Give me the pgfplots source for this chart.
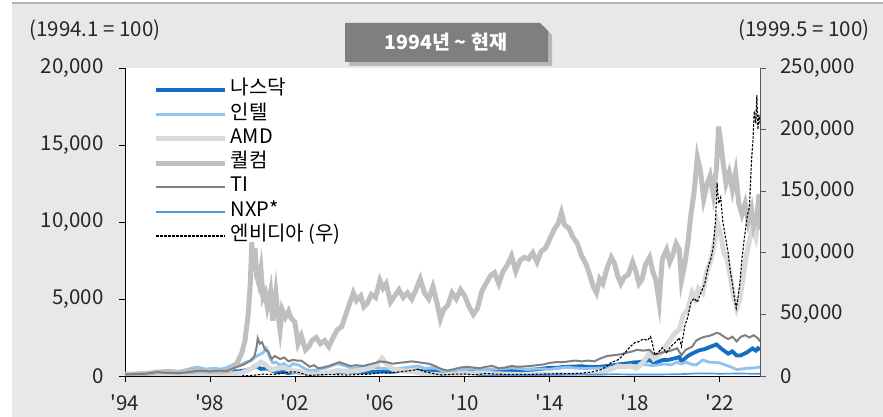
\documentclass[border=0pt]{standalone}
\usepackage{fontspec}
\newfontfamily\kr{Noto Sans CJK KR}
\usepackage{pgfplots}
\pgfplotsset{compat=1.18}
\definecolor{bg}{HTML}{E8E8E8}
\definecolor{cNas}{RGB}{21,110,196}
\definecolor{cInt}{RGB}{143,196,240}
\definecolor{cAMD}{HTML}{D9D9D9}
\definecolor{cQcm}{HTML}{BFBFBF}
\definecolor{cTI}{HTML}{808080}
\definecolor{cNXP}{RGB}{80,150,225}
\definecolor{boxg}{HTML}{7F7F7F}
\newcommand\ap{\textquotesingle}
\newcommand\fs{\kr\fontsize{20.5}{24}\selectfont}
\begin{document}
\begin{tikzpicture}[x=1pt,y=1pt,font=\kr]
\useasboundingbox (0,0) rectangle (883,417);
\fill[bg] (12,0) rectangle (883,414);
\draw[gray!60,line width=1.5pt] (12,414) -- (883,414);
\fill[white] (125,41) rectangle (760,349);
% title box
\fill[black!40,opacity=0.6] (349,351) -- (349,390) -- (544,390) -- (552,382) -- (552,351) -- cycle;
\fill[boxg] (345,355) -- (345,394) -- (540,394) -- (548,386) -- (548,355) -- cycle;
\node[white,font=\kr\bfseries\fontsize{19.5}{22}\selectfont] at (446,374.5) {1994년 \char"7E\ 현재};
\node[anchor=west,font=\fs,text=black!85] at (26,387) {(1994.1 = 100)};
\node[anchor=east,font=\fs,text=black!85] at (873,387) {(1999.5 = 100)};
\begin{axis}[
  at={(125pt,41pt)}, anchor=south west,
  scale only axis, width=635pt, height=308pt,
  xmin=1994, xmax=2023.9, ymin=0, ymax=20000,
  axis x line*=bottom, axis y line*=left,
  axis line style={-, black, line width=0.9pt},
  tick align=outside, major tick length=6pt,
  tick style={black, line width=0.8pt},
  xtick={1994,1998,2002,2006,2010,2014,2018,2022},
  xticklabels={{\ap94},{\ap98},{\ap02},{\ap06},{\ap10},{\ap14},{\ap18},{\ap22}},
  ytick={0,5000,10000,15000,20000},
  yticklabels={0,{5,000},{10,000},{15,000},{20,000}},
  scaled y ticks=false, scaled x ticks=false,
  tick label style={font=\fs, text=black!85},
  yticklabel style={xshift=-12pt},
  xticklabel style={yshift=-9pt},
  legend cell align=left,
  legend image code/.code={\draw[#1] (0pt,0pt) -- (69pt,0pt);},
  legend style={at={(0.045,0.968)}, anchor=north west, draw=none, fill=none,
    inner sep=0pt, row sep=0pt,
    font=\kr\fontsize{20}{22}\selectfont,
    nodes={text height=14pt, text depth=5pt, inner ysep=2.65pt, inner xsep=3pt}},
]
\addplot[cNas, line width=3.8pt] coordinates {
(1994.0,100)(1994.5,90)(1995.0,100)(1995.5,120)(1996.0,135)(1996.5,145)(1997.0,165)(1997.5,190)(1998.0,200)(1998.5,230)(1998.8,210)(1999.0,290)(1999.5,320)(1999.9,450)(2000.2,640)(2000.4,460)(2000.7,490)(2000.95,320)(2001.25,230)(2001.45,280)(2001.7,180)(2001.9,250)(2002.2,230)(2002.5,170)(2002.75,145)(2003.0,170)(2003.5,210)(2003.9,250)(2004.1,270)(2004.5,250)(2004.7,240)(2004.95,275)(2005.3,250)(2005.6,275)(2005.9,285)(2006.1,295)(2006.5,270)(2006.9,310)(2007.3,320)(2007.6,340)(2007.8,360)(2008.0,310)(2008.3,300)(2008.6,300)(2008.85,200)(2009.2,170)(2009.5,230)(2009.9,280)(2010.3,310)(2010.5,280)(2010.9,340)(2011.3,360)(2011.7,320)(2012.0,340)(2012.3,390)(2012.5,370)(2012.9,390)(2013.3,420)(2013.6,460)(2013.95,530)(2014.3,530)(2014.6,580)(2015.0,600)(2015.5,640)(2015.7,600)(2016.1,580)(2016.5,620)(2016.9,680)(2017.3,760)(2017.7,830)(2018.0,890)(2018.2,900)(2018.7,1030)(2018.95,830)(2019.3,1030)(2019.6,1050)(2019.9,1150)(2020.1,1230)(2020.2,930)(2020.5,1300)(2020.7,1450)(2021.0,1650)(2021.3,1750)(2021.5,1860)(2021.85,2050)(2022.1,1750)(2022.4,1450)(2022.6,1600)(2022.8,1330)(2023.0,1340)(2023.3,1550)(2023.55,1790)(2023.7,1650)(2023.8,1800)(2023.9,1700)
};
\addlegendentry{나스닥}
\addplot[cInt, line width=2.8pt] coordinates {
(1994.0,100)(1994.5,110)(1995.0,150)(1995.5,300)(1996.0,250)(1996.5,280)(1997.0,450)(1997.4,580)(1997.8,450)(1998.2,500)(1998.5,450)(1998.8,550)(1999.1,750)(1999.4,700)(1999.7,900)(1999.95,1000)(2000.2,1300)(2000.5,1500)(2000.65,1800)(2000.8,1250)(2000.95,850)(2001.1,900)(2001.3,700)(2001.5,800)(2001.7,550)(2001.9,800)(2002.2,700)(2002.5,450)(2002.7,350)(2003.0,400)(2003.4,500)(2003.8,700)(2004.0,800)(2004.4,650)(2004.7,500)(2005.0,550)(2005.4,600)(2005.8,550)(2006.1,500)(2006.5,450)(2006.9,500)(2007.3,550)(2007.8,650)(2008.1,500)(2008.6,550)(2008.9,350)(2009.2,300)(2009.6,400)(2010.0,450)(2010.4,470)(2010.7,400)(2011.0,420)(2011.4,440)(2011.8,480)(2012.2,520)(2012.6,480)(2012.9,420)(2013.3,450)(2013.7,460)(2014.0,430)(2014.4,520)(2014.8,560)(2015.2,520)(2015.5,480)(2016.0,500)(2016.5,520)(2017.0,560)(2017.5,560)(2018.0,650)(2018.4,750)(2018.8,680)(2019.0,700)(2019.4,780)(2019.7,720)(2020.0,900)(2020.2,780)(2020.4,900)(2020.7,750)(2020.9,720)(2021.2,1040)(2021.5,900)(2021.8,880)(2022.0,850)(2022.3,700)(2022.6,550)(2022.8,420)(2023.0,450)(2023.3,500)(2023.6,520)(2023.9,580)
};
\addlegendentry{인텔}
\addplot[cAMD, line width=5pt] coordinates {
(1994.0,100)(1995.0,120)(1996.0,80)(1997.0,150)(1998.0,100)(1999.0,120)(1999.5,200)(1999.9,450)(2000.2,700)(2000.4,900)(2000.6,750)(2000.9,400)(2001.2,500)(2001.5,550)(2001.8,350)(2002.2,300)(2002.6,150)(2003.0,120)(2003.5,200)(2004.0,350)(2004.5,300)(2005.0,350)(2005.5,500)(2005.9,800)(2006.1,1150)(2006.3,800)(2006.6,450)(2007.0,350)(2007.5,300)(2008.0,150)(2008.5,100)(2009.0,60)(2009.5,120)(2010.0,200)(2010.5,180)(2011.0,160)(2011.5,140)(2012.0,120)(2012.5,100)(2013.0,60)(2013.5,90)(2014.0,80)(2014.5,90)(2015.0,60)(2015.5,40)(2016.0,50)(2016.3,100)(2016.6,250)(2016.9,450)(2017.2,650)(2017.5,600)(2017.8,650)(2018.1,500)(2018.4,900)(2018.7,1500)(2018.9,1100)(2019.1,1300)(2019.4,1800)(2019.7,2400)(2019.9,2800)(2020.1,3000)(2020.3,4000)(2020.5,4300)(2020.7,5400)(2020.85,5000)(2021.0,5700)(2021.2,5400)(2021.4,6800)(2021.6,7600)(2021.75,8600)(2021.9,9900)(2022.05,9200)(2022.2,8000)(2022.35,7600)(2022.5,6500)(2022.65,5200)(2022.8,4400)(2022.95,5000)(2023.1,6400)(2023.25,7800)(2023.4,8800)(2023.55,9600)(2023.7,9000)(2023.8,10100)(2023.9,9800)
};
\addlegendentry{AMD}
\addplot[cQcm, line width=5pt] coordinates {
(1994.0,100)(1994.5,130)(1995.0,160)(1995.5,250)(1996.0,300)(1996.5,250)(1997.0,280)(1997.5,320)(1998.0,300)(1998.5,280)(1998.9,350)(1999.1,600)(1999.3,900)(1999.5,1500)(1999.65,2300)(1999.8,4000)(1999.9,6000)(1999.97,8700)(2000.05,6800)(2000.12,8300)(2000.2,6500)(2000.3,6000)(2000.4,6900)(2000.5,5100)(2000.6,5400)(2000.7,4500)(2000.85,5500)(2000.95,3600)(2001.1,5400)(2001.2,4000)(2001.3,3000)(2001.4,4300)(2001.55,3800)(2001.7,4200)(2001.8,3800)(2002.0,3500)(2002.15,2100)(2002.3,2600)(2002.5,1700)(2002.65,1900)(2002.8,2300)(2003.0,2500)(2003.2,2100)(2003.4,2300)(2003.6,1900)(2003.8,2500)(2004.0,3000)(2004.2,3200)(2004.4,4000)(2004.6,4800)(2004.75,5400)(2004.9,4900)(2005.1,5200)(2005.25,4500)(2005.4,4700)(2005.6,5300)(2005.8,5100)(2006.0,6200)(2006.15,5700)(2006.3,6000)(2006.5,4800)(2006.7,5200)(2006.9,5600)(2007.1,5100)(2007.3,5400)(2007.5,5000)(2007.7,5600)(2007.9,6300)(2008.1,5400)(2008.3,5000)(2008.5,5800)(2008.7,4700)(2008.85,3700)(2009.0,4300)(2009.2,4600)(2009.4,5400)(2009.6,5000)(2009.8,5600)(2010.0,5200)(2010.2,4500)(2010.4,4000)(2010.6,4400)(2010.8,5500)(2011.0,6000)(2011.2,6500)(2011.4,6700)(2011.6,6000)(2011.8,6800)(2012.0,7200)(2012.2,7800)(2012.4,6800)(2012.6,7500)(2012.8,7700)(2013.0,7600)(2013.2,8000)(2013.4,7400)(2013.6,8100)(2013.8,8300)(2014.0,8900)(2014.2,9500)(2014.4,9900)(2014.55,10600)(2014.7,9800)(2014.9,9600)(2015.1,9000)(2015.3,8600)(2015.5,7800)(2015.7,7300)(2015.9,6500)(2016.05,5800)(2016.2,5400)(2016.35,6300)(2016.5,6000)(2016.7,7000)(2016.9,7700)(2017.05,7300)(2017.2,6500)(2017.35,6000)(2017.5,6400)(2017.7,6600)(2017.9,7400)(2018.05,6800)(2018.2,6000)(2018.35,6300)(2018.5,7200)(2018.7,7700)(2018.85,6800)(2019.0,6200)(2019.15,4800)(2019.3,7600)(2019.5,8200)(2019.65,7400)(2019.8,7900)(2019.95,8600)(2020.1,8200)(2020.2,6200)(2020.35,7200)(2020.5,8600)(2020.65,10500)(2020.8,12000)(2020.95,14200)(2021.1,13300)(2021.25,11500)(2021.4,12400)(2021.55,13000)(2021.7,11800)(2021.85,13500)(2021.95,16200)(2022.05,15200)(2022.15,14000)(2022.3,12500)(2022.45,13200)(2022.6,12100)(2022.75,13200)(2022.9,11200)(2023.05,10500)(2023.2,11200)(2023.35,10000)(2023.5,10800)(2023.6,9700)(2023.75,10300)(2023.85,11800)(2023.9,9500)
};
\addlegendentry{퀄컴}
\addplot[cTI, line width=2pt] coordinates {
(1994.0,100)(1994.5,120)(1995.0,150)(1995.5,250)(1996.0,200)(1996.5,180)(1997.0,250)(1997.5,350)(1998.0,300)(1998.5,350)(1998.8,320)(1999.0,450)(1999.3,600)(1999.6,750)(1999.9,1000)(2000.1,1300)(2000.2,1900)(2000.25,2450)(2000.35,2100)(2000.45,2200)(2000.6,1700)(2000.75,1600)(2000.9,1100)(2001.05,1300)(2001.3,1100)(2001.5,1200)(2001.7,950)(2001.9,1050)(2002.1,1000)(2002.3,1000)(2002.5,800)(2002.7,600)(2002.9,700)(2003.1,500)(2003.3,550)(2003.6,650)(2003.9,800)(2004.1,900)(2004.3,800)(2004.6,650)(2004.9,700)(2005.2,650)(2005.5,750)(2005.8,850)(2006.0,950)(2006.3,900)(2006.6,800)(2006.9,850)(2007.2,900)(2007.5,950)(2007.8,900)(2008.0,850)(2008.3,800)(2008.6,650)(2008.9,450)(2009.2,350)(2009.5,450)(2009.8,550)(2010.1,600)(2010.4,550)(2010.7,500)(2011.0,600)(2011.3,650)(2011.6,500)(2011.9,550)(2012.2,650)(2012.5,600)(2012.8,620)(2013.1,650)(2013.4,700)(2013.7,750)(2014.0,850)(2014.3,900)(2014.6,900)(2014.9,950)(2015.2,1000)(2015.5,950)(2015.8,1000)(2016.1,950)(2016.4,1150)(2016.7,1300)(2017.0,1350)(2017.3,1400)(2017.6,1500)(2017.9,1600)(2018.1,1700)(2018.4,1650)(2018.7,1700)(2018.9,1400)(2019.1,1450)(2019.4,1550)(2019.7,1650)(2020.0,1800)(2020.2,1350)(2020.4,1700)(2020.7,1900)(2020.9,2300)(2021.1,2450)(2021.3,2550)(2021.5,2600)(2021.7,2700)(2021.85,2800)(2022.0,2750)(2022.2,2550)(2022.4,2400)(2022.6,2550)(2022.8,2250)(2023.0,2550)(2023.2,2650)(2023.4,2500)(2023.6,2650)(2023.8,2450)(2023.9,2250)
};
\addlegendentry{TI}
\addplot[cNXP, line width=1.7pt] coordinates {
(2010.6,20)(2011.5,30)(2012.5,40)(2013.5,60)(2014.5,80)(2015.5,110)(2016.0,90)(2017.0,110)(2018.0,100)(2019.0,100)(2020.0,110)(2021.0,170)(2022.0,150)(2023.0,160)(2023.9,140)
};
\addlegendentry{NXP*}
\addlegendimage{black, line width=1.1pt, dash pattern=on 2.5pt off 1.5pt}
\addlegendentry{엔비디아 (우)}
\end{axis}
\begin{axis}[
  at={(125pt,41pt)}, anchor=south west,
  scale only axis, width=635pt, height=308pt,
  xmin=1994, xmax=2023.9, ymin=0, ymax=250000,
  axis x line=none, axis y line*=right,
  axis line style={-, black!65, line width=0.9pt},
  tick align=outside, major tick length=6pt,
  tick style={black!65, line width=0.8pt},
  ytick={0,50000,100000,150000,200000,250000},
  yticklabels={0,{50,000},{100,000},{150,000},{200,000},{250,000}},
  scaled y ticks=false, scaled x ticks=false,
  tick label style={font=\fs, text=black!85},
  yticklabel style={xshift=11pt},
]
\addplot[black, line width=1.1pt, dash pattern=on 2.5pt off 1.5pt] coordinates {
(1999.5,100)(2000.0,500)(2000.5,1500)(2001.0,1200)(2001.5,2500)(2001.9,3500)(2002.2,2800)(2002.6,500)(2002.9,700)(2003.5,1200)(2004.0,1000)(2004.5,800)(2005.0,1200)(2005.5,1500)(2006.0,2500)(2006.5,2500)(2007.0,3500)(2007.5,4500)(2007.8,5500)(2008.1,3500)(2008.5,2000)(2008.9,800)(2009.5,1500)(2010.0,1600)(2010.5,1000)(2011.0,2000)(2011.5,1500)(2012.0,1300)(2013.0,1300)(2014.0,1700)(2015.0,2000)(2015.5,2300)(2016.0,3300)(2016.4,5000)(2016.7,8000)(2016.9,11000)(2017.2,13000)(2017.4,16000)(2017.6,20000)(2017.8,24000)(2018.0,27000)(2018.2,28000)(2018.4,30000)(2018.6,29000)(2018.75,32000)(2018.85,25000)(2018.95,17000)(2019.1,19000)(2019.3,23000)(2019.5,19000)(2019.7,24000)(2019.9,27000)(2020.1,31000)(2020.2,24000)(2020.35,40000)(2020.5,48000)(2020.65,60000)(2020.8,63000)(2020.95,60000)(2021.1,67000)(2021.3,75000)(2021.45,88000)(2021.6,96000)(2021.7,105000)(2021.8,125000)(2021.88,157000)(2021.95,140000)(2022.05,145000)(2022.15,125000)(2022.25,115000)(2022.4,100000)(2022.5,85000)(2022.6,75000)(2022.7,63000)(2022.78,55000)(2022.85,62000)(2022.95,75000)(2023.05,95000)(2023.15,110000)(2023.3,130000)(2023.4,137000)(2023.5,175000)(2023.57,192000)(2023.63,215000)(2023.7,205000)(2023.75,228000)(2023.8,200000)(2023.85,212000)(2023.9,205000)
};
\end{axis}
\end{tikzpicture}
\end{document}
